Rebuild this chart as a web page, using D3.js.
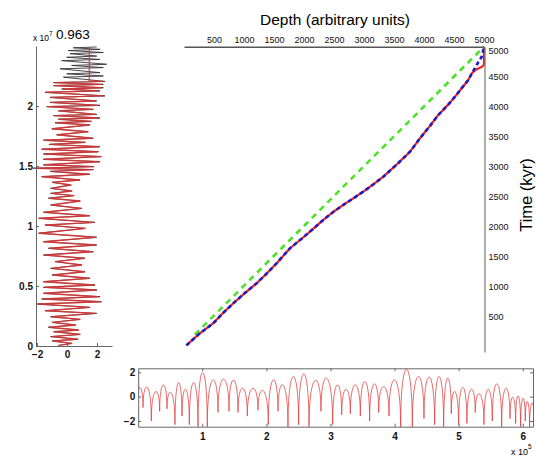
<!DOCTYPE html>
<html>
<head>
<meta charset="utf-8">
<script src="https://cdn.jsdelivr.net/npm/d3@7"></script>
<style>
  body { margin: 0; background: #fff; }
  svg { display: block; font-family: "Liberation Sans", Arial, Helvetica, sans-serif; }
</style>
</head>
<body>
<div id="wrapper"></div>
<script>
const width = 536;
const height = 457;

// ---- main panel: depth vs time ----
const curveDepth = [40, 250, 488, 650, 822, 1000, 1212, 1390, 1545, 1767, 1950, 2100, 2322, 2480, 2655, 2820, 2988, 3150, 3322, 3550, 3767, 3933, 4100, 4238, 4400, 4517, 4638, 4738, 4800];
const curveTime  = [20, 210, 390, 560, 723, 880, 1057, 1230, 1390, 1640, 1790, 1917, 2112, 2240, 2362, 2470, 2583, 2700, 2833, 3040, 3250, 3473, 3680, 3862, 4030, 4167, 4320, 4445, 4560];
const redTailDepth  = [4870, 4960, 5000, 5000];
const redTailTime   = [4620, 4660, 4700, 4990];
const blueTailDepth = [4880, 4962, 5000];
const blueTailTime  = [4700, 4833, 4990];
const greenDepth = [180, 5000];
const greenTime  = [200, 5000];
const mainTicks = [500, 1000, 1500, 2000, 2500, 3000, 3500, 4000, 4500, 5000];

// ---- left panel: zigzag record (depth in 1e7) ----
const zigDepth = [0.005,0.022,0.042,0.056,0.078,0.097,0.119,0.133,0.156,0.175,
  0.197,0.222,0.244,0.272,0.294,0.322,0.350,0.369,0.392,0.411,
  0.439,0.467,0.489,0.508,0.536,0.564,0.592,0.619,0.647,0.675,
  0.703,0.731,0.758,0.786,0.814,0.842,0.869,0.906,0.940,0.980,
  1.008,1.030,1.064,1.086,1.114,1.147,1.175,1.208,1.231,1.253,
  1.272,1.292,1.314,1.342,1.364,1.383,1.411,1.431,1.455,1.470,
  1.481,1.495,1.510,1.536,1.556,1.578,1.600,1.619,1.640,1.661,
  1.680,1.697,1.715,1.731,1.760,1.786,1.810,1.842,1.860,1.872,
  1.890,1.900,1.920,1.930,1.960,1.972,1.995,2.005,2.030,2.042,
  2.072,2.084,2.114,2.126,2.142,2.152,2.170,2.180,2.195,2.205,
  2.240,2.250,2.268,2.278,2.310,2.320,2.338,2.348,2.378,2.388,
  2.406,2.416,2.436,2.446,2.462,2.472,2.485,2.492];
const blackVals = [-0.60,0.30,-1.00,0.75,-1.10,0.87,-0.90,0.75,-1.25,0.55,
  -1.00,0.87,-1.10,1.98,-1.47,1.53,-2.00,2.30,-1.70,2.20,
  -1.58,2.00,-1.58,1.87,-1.58,1.53,-1.00,1.20,-1.10,0.98,
  -0.80,1.20,-1.58,1.76,-1.25,1.98,-1.58,1.98,-1.90,1.20,
  -1.47,1.87,-1.90,1.53,-1.58,0.98,-1.10,0.87,-1.25,0.42,
  -1.10,0.31,-1.10,0.20,-1.00,0.87,-1.70,1.53,-1.13,1.76,
  -2.25,1.80,-1.58,2.20,-1.58,2.30,-1.58,2.10,-1.70,2.20,
  -1.20,1.20,-1.58,1.76,-0.70,1.42,-1.02,1.53,-0.80,1.64,
  -0.58,2.20,-0.91,1.98,-0.58,1.76,-1.36,2.20,-1.13,1.98,
  -1.13,2.53,-1.47,2.20,-0.36,2.42,-0.91,2.42,-0.91,2.53,
  -0.24,2.42,-0.02,2.20,-0.47,2.42,0.31,2.64,-0.36,2.20,
  -0.02,1.98,0.20,2.42,0.09,2.20,0.42,1.98];
// red follows the first 100 depths, then a vertical bit at the top
const redVals = [-0.50,0.35,-0.90,0.70,-1.00,0.90,-0.85,0.80,-1.20,0.60,
  -0.95,0.90,-1.05,1.90,-1.40,1.50,-1.95,2.25,-1.65,2.10,
  -1.55,1.95,-1.50,1.85,-1.55,1.50,-0.95,1.20,-1.05,1.00,
  -0.75,1.15,-1.50,1.70,-1.20,1.95,-1.55,1.90,-1.85,1.25,
  -1.40,1.80,-1.85,1.50,-1.50,0.95,-1.05,0.90,-1.20,0.50,
  -1.00,0.35,-1.00,0.30,-0.95,0.85,-1.65,1.50,-1.10,1.70,
  -2.20,1.75,-1.55,2.15,-1.55,2.25,-1.50,2.05,-1.65,2.15,
  -1.15,1.25,-1.50,1.70,-0.65,1.40,-1.00,1.50,-0.75,1.60,
  -0.55,2.10,-0.85,1.90,-0.55,1.70,-1.30,2.10,-1.10,1.90,
  -1.10,2.40,-1.40,2.10,-0.30,2.30,-0.85,2.30,-0.85,2.40];
const redTopDepth = [2.21, 2.49];
const redTopVals = [1.49, 1.49];
const leftYTicks = [0, 0.5, 1, 1.5, 2];
const leftXTicks = [-2, 0, 2];

// ---- bottom panel: arches (x in 1e5) ----
const troughX = [0, 0.075, 0.205, 0.335, 0.449, 0.574, 0.683, 0.798, 0.933, 1.078,
  1.245, 1.417, 1.557, 1.703, 1.869, 2.03, 2.181, 2.337, 2.503, 2.665,
  2.852, 3.034, 3.175, 3.31, 3.466, 3.611, 3.752, 3.913, 4.095, 4.277,
  4.459, 4.625, 4.766, 4.885, 4.999, 5.129, 5.259, 5.395, 5.525, 5.671,
  5.801, 5.889, 5.967, 6.04, 6.107, 6.175];
const troughY = [0.3, -0.9, -2.0, -1.2, -1.0, -2.3, -1.6, -2.3, -2.5, -2.5,
  -1.3, -1.2, -1.3, -1.6, -1.1, -2.3, -1.2, -2.5, -2.3, -2.5,
  -1.2, -2.3, -1.5, -1.4, -1.6, -2.0, -1.3, -1.6, -2.5, -2.5,
  -1.8, -2.3, -2.5, -1.4, -2.3, -2.2, -1.3, -2.3, -2.0, -2.5,
  -1.8, -2.2, -2.5, -2.0, -2.5, -1.5];
const peakY = [0.69, 0.77, 0.41, 0.96, 0.33, 1.15, 0.6, 1.15, 1.98, 1.37,
  1.43, 1.37, 0.69, 0.69, 0.5, 1.37, 0.96, 1.65, 1.87, 1.32,
  1.51, 0.96, 0.6, 0.96, 1.24, 1.04, 0.82, 1.37, 2.25, 1.65,
  1.6, 1.65, 1.5, 0.41, 0.77, 0.6, 0.22, 0.6, 1.05, 0.69,
  -0.05, 0.06, -0.13, -0.41, -0.55];
const bottomXTicks = [1, 2, 3, 4, 5, 6];
const bottomYTicks = [-2, 0, 2];

const svg = d3.select("#wrapper").append("svg")
  .attr("width", width)
  .attr("height", height);

const axisColor = "#666";
const plain = d => String(d).replace("-", "\u2212");

function styleAxis(g, size, weight) {
  g.selectAll("path.domain").attr("stroke", axisColor);
  g.selectAll(".tick line").attr("stroke", axisColor);
  g.selectAll(".tick text")
    .attr("fill", "#111")
    .attr("font-size", size)
    .attr("font-weight", weight || "normal")
    .attr("font-family", "Liberation Sans, Arial, sans-serif");
}

/// 1. main panel ///
const x = d3.scaleLinear().domain([0, 5000]).range([184, 484]);
const y = d3.scaleLinear().domain([-90, 5000]).range([352, 46.7]);

const line = d3.line().x(d => x(d[0])).y(d => y(d[1]));
const base = curveDepth.map((d, i) => [d, curveTime[i]]);
const redLine = base.concat(redTailDepth.map((d, i) => [d, redTailTime[i]]));
const blueLine = base.concat(blueTailDepth.map((d, i) => [d, blueTailTime[i]]));
const greenLine = greenDepth.map((d, i) => [d, greenTime[i]]);

svg.append("path").datum(greenLine)
  .attr("d", line).attr("fill", "none")
  .attr("stroke", "#4fe02a").attr("stroke-width", 2.6)
  .attr("stroke-dasharray", "6,5");

svg.append("path").datum(redLine)
  .attr("d", line).attr("fill", "none")
  .attr("stroke", "#ee2020").attr("stroke-width", 2.2)
  .attr("stroke-linejoin", "round");

svg.append("path").datum(blueLine)
  .attr("d", line).attr("fill", "none")
  .attr("stroke", "#1c1cc8").attr("stroke-width", 2.6)
  .attr("stroke-dasharray", "4,3");

const topAxis = svg.append("g")
  .attr("transform", "translate(0,46.7)")
  .call(d3.axisTop(x).tickValues(mainTicks).tickFormat(plain).tickSize(0).tickPadding(3.5));
styleAxis(topAxis, 9);
topAxis.select("path.domain").attr("stroke", "#555").attr("stroke-width", 1.4);

const rightAxis = svg.append("g")
  .attr("transform", "translate(484.5,0)")
  .call(d3.axisRight(y).tickValues(mainTicks).tickFormat(plain).tickSize(0).tickPadding(4));
styleAxis(rightAxis, 9);
rightAxis.select("path.domain").attr("stroke", "#777").attr("stroke-width", 1.2);
// top label 5000 sits right on the corner, push the right one a bit down
rightAxis.selectAll(".tick text").filter(d => d === 5000).attr("dy", "0.75em");

svg.append("text")
  .attr("x", 335).attr("y", 25)
  .attr("text-anchor", "middle")
  .attr("font-size", 15.5)
  .text("Depth (arbitrary units)");

svg.append("text")
  .attr("transform", "translate(532,195) rotate(-90)")
  .attr("text-anchor", "middle")
  .attr("font-size", 16.5)
  .text("Time (kyr)");

/// 2. left panel ///
const lx = d3.scaleLinear().domain([-2.07, 3.0]).range([36, 112]);
const ly = d3.scaleLinear().domain([0, 2.5]).range([346, 46]);
const zline = d3.line().x(d => lx(d[1])).y(d => ly(d[0]));

const blackPts = zigDepth.map((d, i) => [d, blackVals[i]]);
const redPts = redVals.map((v, i) => [zigDepth[i], v])
  .concat(redTopDepth.map((d, i) => [d, redTopVals[i]]));

svg.append("path").datum(blackPts)
  .attr("d", zline).attr("fill", "none")
  .attr("stroke", "#333").attr("stroke-width", 0.9);

svg.append("path").datum(redPts)
  .attr("d", zline).attr("fill", "none")
  .attr("stroke", "#dd3333").attr("stroke-width", 1.4)
  .attr("stroke-opacity", 0.85);

const leftAxis = svg.append("g")
  .attr("transform", "translate(36,0)")
  .call(d3.axisLeft(ly).tickValues(leftYTicks).tickFormat(plain).tickSizeInner(-3).tickSizeOuter(0).tickPadding(3));
styleAxis(leftAxis, 10, "bold");

const leftBottom = svg.append("g")
  .attr("transform", "translate(0,346)")
  .call(d3.axisBottom(lx).tickValues(leftXTicks).tickFormat(plain).tickSizeInner(-3).tickSizeOuter(0).tickPadding(5));
styleAxis(leftBottom, 10, "bold");

const lt = svg.append("text").attr("x", 33).attr("y", 40.5).attr("font-size", 8.5);
lt.append("tspan").text("x 10");
lt.append("tspan").attr("dy", -5).attr("font-size", 6.5).text("7");
svg.append("text")
  .attr("x", 56).attr("y", 38.5)
  .attr("font-size", 13.5)
  .text("0.963");

/// 3. bottom panel ///
const bx = d3.scaleLinear().domain([0, 6.16]).range([138.2, 533]);
const by = d3.scaleLinear().domain([-2.47, 2.33]).range([426.7, 368.3]);

svg.append("clipPath").attr("id", "bclip")
  .append("rect")
  .attr("x", bx(0)).attr("y", by(2.33))
  .attr("width", bx(6.16) - bx(0)).attr("height", by(-2.47) - by(2.33));

// each arch goes trough -> trough, control points sit straight above the ends
const archPath = d3.path();
archPath.moveTo(bx(troughX[0]), by(troughY[0]));
peakY.forEach((p, i) => {
  const y0 = troughY[i], y1 = troughY[i + 1];
  const c = (p - (y0 + y1) / 8) / 0.75;
  archPath.bezierCurveTo(bx(troughX[i]), by(c), bx(troughX[i + 1]), by(c), bx(troughX[i + 1]), by(y1));
});

svg.append("path")
  .attr("d", archPath.toString())
  .attr("clip-path", "url(#bclip)")
  .attr("fill", "none")
  .attr("stroke", "#e23b3b")
  .attr("stroke-width", 0.9)
  .attr("stroke-opacity", 0.85);

const bBottom = svg.append("g")
  .attr("transform", "translate(0,426.7)")
  .call(d3.axisBottom(bx).tickValues(bottomXTicks).tickFormat(plain).tickSizeInner(-3).tickSizeOuter(0).tickPadding(6));
styleAxis(bBottom, 10, "bold");
const bTop = svg.append("g")
  .attr("transform", "translate(0,368.3)")
  .call(d3.axisTop(bx).tickValues(bottomXTicks).tickSizeInner(-3).tickSizeOuter(0).tickFormat(""));
styleAxis(bTop, 10);
const bLeft = svg.append("g")
  .attr("transform", "translate(138.2,0)")
  .call(d3.axisLeft(by).tickValues(bottomYTicks).tickFormat(plain).tickSizeInner(-3).tickSizeOuter(0).tickPadding(3));
styleAxis(bLeft, 10, "bold");
const bRight = svg.append("g")
  .attr("transform", "translate(533,0)")
  .call(d3.axisRight(by).tickValues(bottomYTicks).tickSizeInner(-3).tickSizeOuter(0).tickFormat(""));
styleAxis(bRight, 10);

const bt = svg.append("text").attr("x", 511).attr("y", 455).attr("font-size", 9);
bt.append("tspan").text("x 10");
bt.append("tspan").attr("dy", -6).attr("font-size", 6.5).text("5");
</script>
</body>
</html>
